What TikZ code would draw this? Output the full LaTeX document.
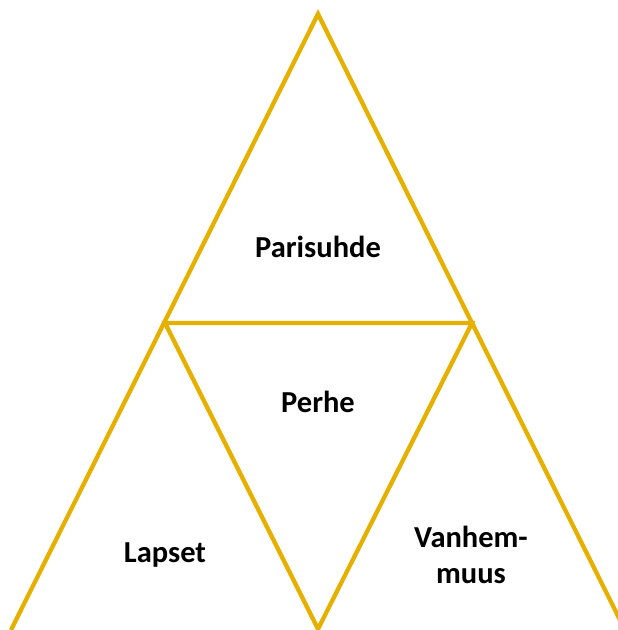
\documentclass[tikz,border=0pt]{standalone}
\usepackage{fontspec}
\setmainfont{Carlito}
\definecolor{gold}{RGB}{230,176,0}
\begin{document}
\begin{tikzpicture}[x={(1pt,0)},y={(0,-1pt)},
  edge/.style={draw=gold,line width=4.3pt,line join=miter},
  lbl/.style={font=\fontsize{30.5}{36}\selectfont\bfseries,text=black,align=center,inner sep=0pt}]
\useasboundingbox (0,0) rectangle (618,630);
\clip (0,0) rectangle (618,630);
\coordinate (top) at (318,14);
\coordinate (ml) at (165,323);
\coordinate (mr) at (472,323);
\coordinate (bl) at (11,630);
\coordinate (br) at (625,630);
\coordinate (bm) at (318,629);
\draw[edge] (bl) -- (top) -- (br);
\draw[edge] (ml) -- (mr) -- (bm) -- cycle;
\node[lbl] (p) at (318,247) {Parisuhde};
\node[lbl] (f) at (318,402) {Perhe};
\node[lbl] (l) at (165,555) {Lapset};
\node[lbl] (v) at (471,555) {Vanhem-\\muus};
\end{tikzpicture}
\end{document}
